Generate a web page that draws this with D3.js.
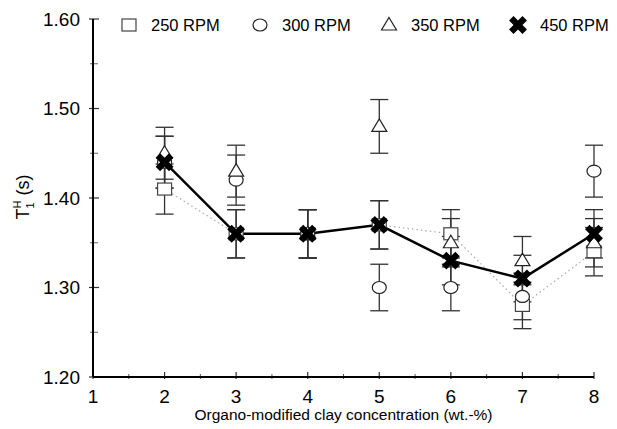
<!DOCTYPE html>
<html>
<head>
<meta charset="utf-8">
<script src="https://cdn.jsdelivr.net/npm/d3@7"></script>
<style>
	body { margin: 0; background: #fff; }
	svg { display: block; font-family: "Liberation Sans", Arial, sans-serif; }
</style>
</head>
<body>
<svg id="chart" width="617" height="429"></svg>
<script>
// clay concentration (wt.-%)
const conc = [2, 3, 4, 5, 6, 7, 8];

// T1H values per stirring speed
const rpm250 = [1.41, 1.36, 1.36, 1.37, 1.36, 1.28, 1.34];
const rpm300 = [1.44, 1.42, 1.36, 1.30, 1.30, 1.29, 1.43];
const rpm350 = [1.45, 1.43, 1.36, 1.48, 1.35, 1.33, 1.35];
const rpm450 = [1.44, 1.36, 1.36, 1.37, 1.33, 1.31, 1.36];

// half length of the error bars
const err250 = [0.028, 0.027, 0.027, 0.027, 0.027, 0.026, 0.027];
const err300 = [0.029, 0.028, 0.027, 0.026, 0.026, 0.026, 0.029];
const err350 = [0.029, 0.029, 0.027, 0.030, 0.027, 0.027, 0.027];
const err450 = [0.029, 0.027, 0.027, 0.027, 0.027, 0.026, 0.027];

const seriesNames = ["250 RPM", "300 RPM", "350 RPM", "450 RPM"];
const xTicks = [1, 2, 3, 4, 5, 6, 7, 8];
const yTicks = [1.20, 1.30, 1.40, 1.50, 1.60];

const svg = d3.select("#chart");
const x = d3.scaleLinear().domain([1, 8]).range([93, 594]);
const y = d3.scaleLinear().domain([1.2, 1.6]).range([377, 19]);

const series = [
	{name: seriesNames[0], vals: rpm250, err: err250, shape: "square", line: "dotted"},
	{name: seriesNames[1], vals: rpm300, err: err300, shape: "circle", line: null},
	{name: seriesNames[2], vals: rpm350, err: err350, shape: "triangle", line: null},
	{name: seriesNames[3], vals: rpm450, err: err450, shape: "cross", line: "solid"}
];

// ---- axes ----
const ax = svg.append("g");
// minor ticks every 0.05 on y, every 0.5 on x
d3.range(1.25, 1.6, 0.1).forEach(function(v) {
	ax.append("line").attr("x1", x(1) - 3).attr("x2", x(1) + 5)
		.attr("y1", y(v)).attr("y2", y(v)).attr("stroke", "#666").attr("stroke-width", 1);
});
yTicks.forEach(function(v) {
	ax.append("line").attr("x1", x(1) - 4).attr("x2", x(1) + 6)
		.attr("y1", y(v)).attr("y2", y(v)).attr("stroke", "#333").attr("stroke-width", 1.2);
});
d3.range(1.5, 8, 1).forEach(function(v) {
	ax.append("line").attr("x1", x(v)).attr("x2", x(v))
		.attr("y1", y(1.2) - 3).attr("y2", y(1.2) + 2).attr("stroke", "#555").attr("stroke-width", 1);
});
xTicks.forEach(function(v) {
	ax.append("line").attr("x1", x(v)).attr("x2", x(v))
		.attr("y1", y(1.2) - 5).attr("y2", y(1.2) + 2).attr("stroke", "#333").attr("stroke-width", 1.2);
});
ax.append("line").attr("x1", x(1)).attr("x2", x(1)).attr("y1", y(1.6)).attr("y2", y(1.2))
	.attr("stroke", "#000").attr("stroke-width", 2);
ax.append("line").attr("x1", x(1)).attr("x2", x(8)).attr("y1", y(1.2)).attr("y2", y(1.2))
	.attr("stroke", "#000").attr("stroke-width", 2);

ax.selectAll(".ylab").data(yTicks).enter().append("text")
	.attr("x", 80).attr("y", d => y(d)).attr("dy", "0.36em")
	.attr("text-anchor", "end").attr("font-size", 19)
	.text(d3.format(".2f"));
ax.selectAll(".xlab").data(xTicks).enter().append("text")
	.attr("x", d => x(d)).attr("y", 403)
	.attr("text-anchor", "middle").attr("font-size", 19)
	.text(d => d);

svg.append("text").attr("x", (x(1) + x(8)) / 2).attr("y", 420)
	.attr("text-anchor", "middle").attr("font-size", 15.5)
	.text("Organo-modified clay concentration (wt.-%)");

// y title: T with subscript 1 and superscript H
const yt = svg.append("text").attr("transform", "translate(29,197) rotate(-90)")
	.attr("text-anchor", "middle").attr("font-size", 18);
yt.append("tspan").text("T");
yt.append("tspan").attr("dy", 5).attr("font-size", 11).text("1");
yt.append("tspan").attr("dx", -6).attr("dy", -13).attr("font-size", 11).text("H");
yt.append("tspan").attr("dy", 8).text("\u00a0(s)");

// ---- markers ----
function drawMarker(g, shape, cx, cy) {
	if (shape == "square") {
		g.append("rect").attr("x", cx - 7).attr("y", cy - 6).attr("width", 14).attr("height", 12)
			.attr("fill", "#fff").attr("stroke", "#444").attr("stroke-width", 1.2);
	} else if (shape == "circle") {
		g.append("ellipse").attr("cx", cx).attr("cy", cy).attr("rx", 7).attr("ry", 6)
			.attr("fill", "#fff").attr("stroke", "#222").attr("stroke-width", 1.2);
	} else if (shape == "triangle") {
		g.append("path").attr("d", `M${cx},${cy - 7.5}L${cx + 7.5},${cy + 5}L${cx - 7.5},${cy + 5}Z`)
			.attr("fill", "#fff").attr("stroke", "#222").attr("stroke-width", 1.2);
	} else {
		// heavy x, drawn as a rotated cross
		g.append("path").attr("d", d3.symbol(d3.symbolCross, 200)())
			.attr("transform", `translate(${cx},${cy}) rotate(45)`)
			.attr("fill", "#000");
	}
}

const plot = svg.append("g");

// error bars first
series.forEach(function(s) {
	s.vals.forEach(function(v, i) {
		const cx = x(conc[i]);
		const lo = y(v - s.err[i]), hi = y(v + s.err[i]);
		plot.append("line").attr("x1", cx).attr("x2", cx).attr("y1", lo).attr("y2", hi)
			.attr("stroke", "#333").attr("stroke-width", 1.3);
		[lo, hi].forEach(function(cy) {
			plot.append("line").attr("x1", cx - 9).attr("x2", cx + 9).attr("y1", cy).attr("y2", cy)
				.attr("stroke", "#333").attr("stroke-width", 1.3);
		});
	});
});

// connecting lines
const line = d3.line().x((d, i) => x(conc[i])).y(d => y(d));
series.forEach(function(s) {
	if (s.line == "dotted") {
		plot.append("path").attr("d", line(s.vals)).attr("fill", "none")
			.attr("stroke", "#aaa").attr("stroke-width", 1.2).attr("stroke-dasharray", "1.5,3");
	} else if (s.line == "solid") {
		plot.append("path").attr("d", line(s.vals)).attr("fill", "none")
			.attr("stroke", "#000").attr("stroke-width", 2.5);
	}
});

series.forEach(function(s) {
	s.vals.forEach(function(v, i) { drawMarker(plot, s.shape, x(conc[i]), y(v)); });
});

// ---- legend ----
const legX = [129, 260, 389, 518];
const leg = svg.append("g");
series.forEach(function(s, i) {
	drawMarker(leg, s.shape, legX[i], 25);
	leg.append("text").attr("x", legX[i] + 22).attr("y", 25).attr("dy", "0.36em")
		.attr("font-size", 16.5).text(s.name);
});
</script>
</body>
</html>
